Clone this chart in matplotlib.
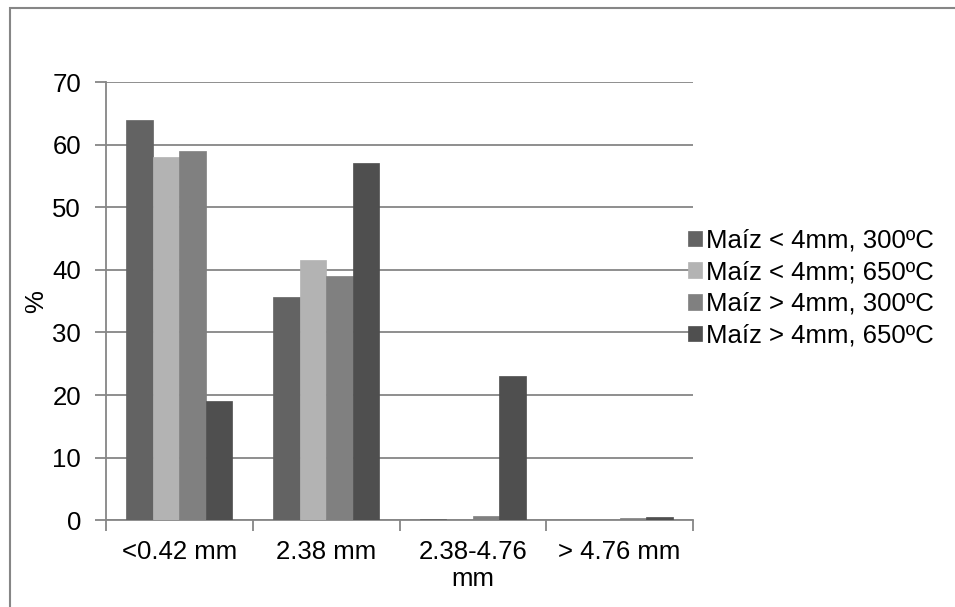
import matplotlib
matplotlib.use("Agg")
import matplotlib.pyplot as plt
from matplotlib.patches import Rectangle
import numpy as np

plt.rcParams['font.family'] = ['Liberation Sans', 'DejaVu Sans']

categories = ["<0.42 mm", "2.38 mm", "2.38-4.76\nmm", "> 4.76 mm"]
series_names = ["Maíz < 4mm, 300ºC", "Maíz < 4mm; 650ºC",
                "Maíz > 4mm, 300ºC", "Maíz > 4mm, 650ºC"]
s1 = [64, 35.6, 0.15, 0.05]
s2 = [58, 41.6, 0.0, 0.05]
s3 = [59, 39, 0.7, 0.4]
s4 = [19, 57, 23, 0.5]
series = [s1, s2, s3, s4]
colors = ["#636363", "#b3b3b3", "#808080", "#4f4f4f"]
yticks = [0, 10, 20, 30, 40, 50, 60, 70]

W, H = 955, 607
fig = plt.figure(figsize=(W/100, H/100), dpi=100)
left, right, top, bottom = 106, 693, 82, 520.3
ax = fig.add_axes([left/W, 1-bottom/H, (right-left)/W, (bottom-top)/H])

fs = 18.5
gc = "#868686"
x = np.arange(len(categories))
bw = 0.181
for i, (vals, c, name) in enumerate(zip(series, colors, series_names)):
    ax.bar(x + (i-1.5)*bw, vals, bw, color=c, label=name, zorder=3,
           edgecolor=c, linewidth=0.5)

ax.set_xlim(-0.5, len(categories)-0.5)
ax.set_ylim(0, 70)
ax.set_yticks(yticks)
ax.set_yticklabels([str(v) for v in yticks], fontsize=fs)
ax.yaxis.grid(True, color=gc, linewidth=1.3, zorder=0)
ax.set_axisbelow(True)
ax.tick_params(axis='y', length=8, width=1.3, color=gc, pad=10)

# x ticks at category boundaries; labels at centers
ax.set_xticks(np.arange(-0.5, len(categories), 1.0))
ax.set_xticklabels([])
ax.set_xticks(x, minor=True)
ax.set_xticklabels(categories, minor=True, fontsize=fs, linespacing=1.15)
ax.tick_params(axis='x', which='major', length=8, width=1.3, color=gc)
ax.tick_params(axis='x', which='minor', length=0, pad=14)

for s in ['top', 'right']:
    ax.spines[s].set_visible(False)
for s in ['left', 'bottom']:
    ax.spines[s].set_color(gc)
    ax.spines[s].set_linewidth(1.3)

ax.set_ylabel("%", fontsize=fs, labelpad=3)

leg = ax.legend(loc='center left', bbox_to_anchor=(0.97, 0.53), frameon=False,
                fontsize=fs, handlelength=0.55, handleheight=0.55,
                handletextpad=0.15, labelspacing=0.3, borderpad=0)

# outer chart border (right and bottom edges lie outside the image)
fig.patches.append(Rectangle((10/W, -0.1), 1.2, 1.1-8/H, transform=fig.transFigure,
                             fill=False, edgecolor=gc, linewidth=1.5))

fig.savefig("out.png", dpi=100)
